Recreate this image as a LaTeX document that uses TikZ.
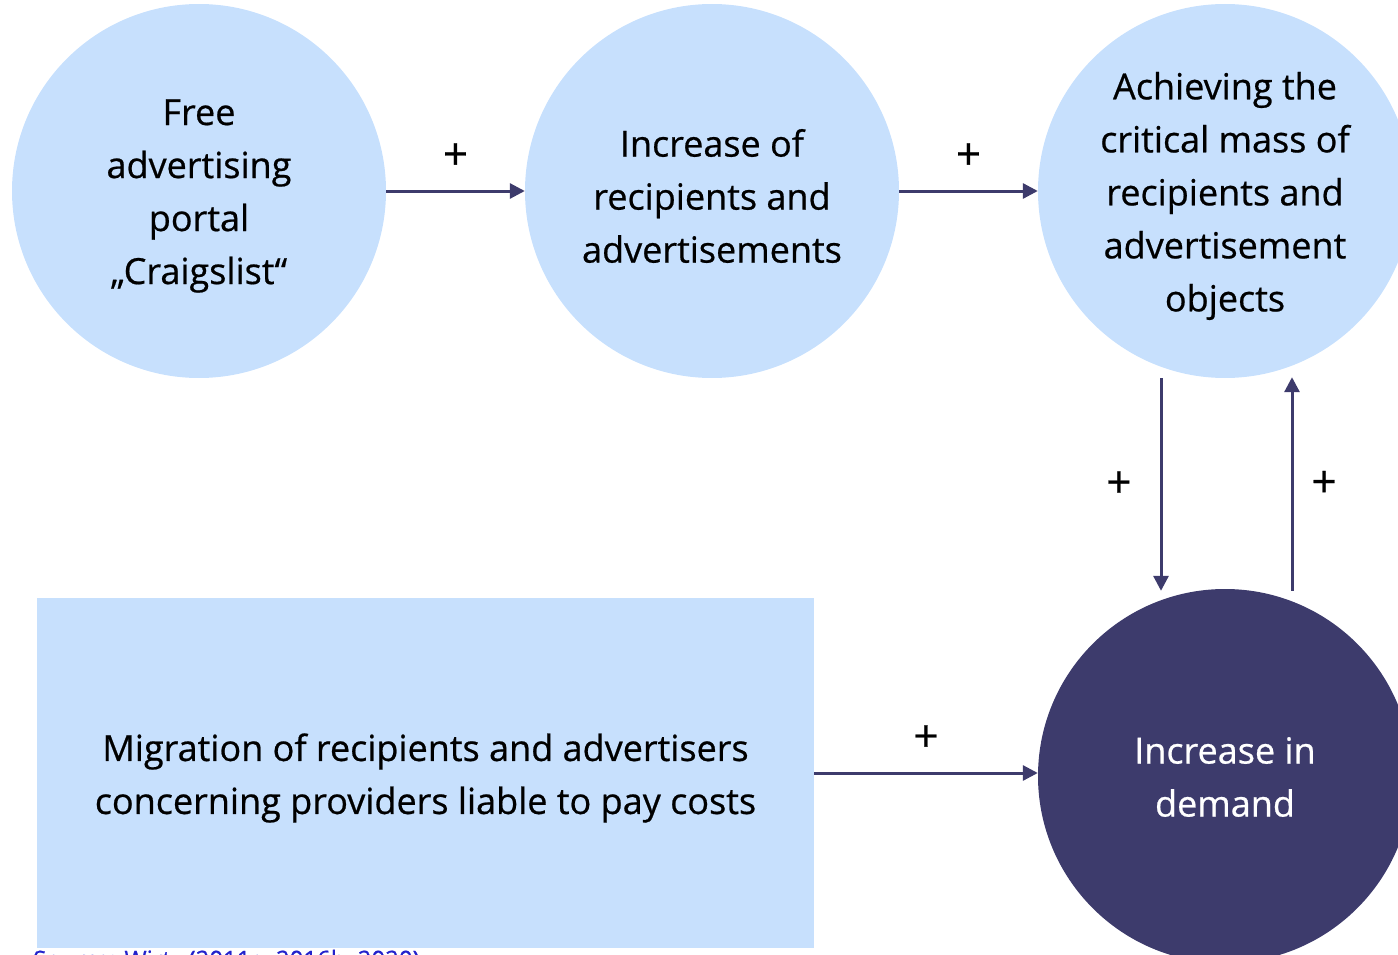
\documentclass[tikz,border=0pt]{standalone}
\usepackage{fontspec}
\setmainfont{Open Sans}[FakeBold=0.6]
\usetikzlibrary{arrows.meta}
\definecolor{lightblue}{HTML}{C7E0FD}
\definecolor{darkblue}{HTML}{3D3B6C}
\definecolor{srcblue}{HTML}{2222CC}
\begin{document}
\begin{tikzpicture}[x=1pt,y=-1pt,
  bubble/.style={circle,fill=lightblue,minimum size=374pt,inner sep=0pt},
  darkbubble/.style={bubble,fill=darkblue},
  boxnode/.style={rectangle,fill=lightblue,minimum width=777pt,minimum height=350pt,inner sep=0pt},
  txt/.style={align=center,inner sep=0pt,font=\fontsize{36}{53}\selectfont},
  whitetxt/.style={txt,text=white},
  link/.style={draw=darkblue,line width=3pt,-{Triangle[length=15pt,width=15pt]}},
  plus/.style={font=\fontsize{44}{44}\selectfont,inner sep=0pt}]
\useasboundingbox (0,0) rectangle (1398,955);
\node[bubble] (c1) at (199,191) {};
\node[bubble] (c2) at (712,191) {};
\node[bubble] (c3) at (1225,191) {};
\node[darkbubble] (c4) at (1225,776) {};
\node[boxnode] (r) at (425.5,773) {};
\node[txt] (t1) at ([yshift=-5pt]c1.center) {Free\\advertising\\portal\\„Craigslist“};
\node[txt] (t2) at ([yshift=-5pt]c2.center) {Increase of\\recipients and\\advertisements};
\node[txt] (t3) at ([yshift=-5pt]c3.center) {Achieving the\\critical mass of\\recipients and\\advertisement\\objects};
\node[whitetxt] (t4) at ([yshift=-1pt]c4.center) {Increase in\\demand};
\node[txt] (t5) at ([yshift=-5pt]r.center) {Migration of recipients and advertisers\\concerning providers liable to pay costs};
\node[anchor=base west,text=srcblue,font=\fontsize{24}{28}\selectfont,inner sep=0pt] (src) at (33,968) {Source: Wirtz (2011a, 2016b, 2020)};
\draw[link] (c1.east) -- (c2.west) node[plus,midway,above=20pt] (p1) {+};
\draw[link] (c2.east) -- (c3.west) node[plus,midway,above=20pt] (p2) {+};
\draw[link] ([xshift=-64pt]c3.south) -- ([xshift=-64pt,yshift=-2pt]c4.north) node[plus,midway,left=28pt] (p3) {+};
\draw[link] ([xshift=67pt,yshift=-2pt]c4.north) -- ([xshift=67pt,yshift=1pt]c3.south) node[plus,midway,right=18pt] (p4) {+};
\draw[link] (r.east) -- (r.east -| c4.west) node[plus,midway,above=20pt] (p5) {+};
\end{tikzpicture}
\end{document}
